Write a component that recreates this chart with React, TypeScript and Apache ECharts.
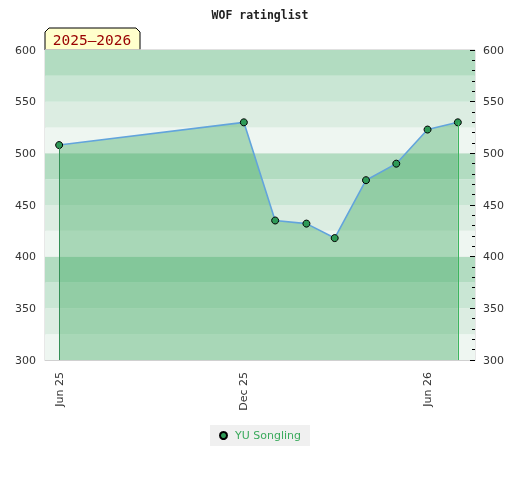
import React, { useEffect, useRef } from "react";
import * as echarts from "echarts";

const dates: string[] = [
  "2025-06-01", "2025-12-01", "2026-01-01", "2026-02-01", "2026-03-01",
  "2026-04-01", "2026-05-01", "2026-06-01", "2026-07-01",
];
const ratings: number[] = [508, 530, 435, 432, 418, 474, 490, 523, 530];
const xTickDates: string[] = ["2025-06-01", "2025-12-01", "2026-06-01"];
const monthNames: string[] = ["Jan", "Feb", "Mar", "Apr", "May", "Jun", "Jul", "Aug", "Sep", "Oct", "Nov", "Dec"];
const seriesName = "YU Songling";
const titleText = "WOF ratinglist";
const seasonText = "2025–2026";
const xMinDate = "2025-05-18";
const xMaxDate = "2026-07-18";
const yMin = 300;
const yMax = 600;

const ts = (s: string) => {
  const [y, m, d] = s.split("-").map(Number);
  return Date.UTC(y, m - 1, d);
};

export default function App() {
  const ref = useRef<HTMLDivElement>(null);
  useEffect(() => {
    if (!ref.current) return;
    const chart = echarts.init(ref.current, undefined, { renderer: "svg" });
    const points = dates.map((d, i) => [ts(d), ratings[i]]);
    const first = points[0];
    const last = points[points.length - 1];
    const font = "DejaVu Sans";
    chart.setOption({
      animation: false,
      title: {
        text: titleText,
        left: "center",
        top: 4,
        textStyle: { fontFamily: "DejaVu Sans Mono", fontWeight: "bold", fontSize: 11.5, color: "#222" },
      },
      grid: { left: 45, right: 45, top: 50, bottom: 120, show: true, borderColor: "#d0d0d0", borderWidth: 1, backgroundColor: "transparent" },
      legend: {
        data: [seriesName],
        left: "center",
        top: 425,
        icon: "circle",
        itemWidth: 7,
        itemHeight: 7,
        itemGap: 6,
        backgroundColor: "#f0f0f0",
        padding: [5, 9, 5, 9],
        textStyle: { color: "#3aaa5c", fontSize: 11, fontFamily: font, padding: [0, 0, 0, 3] },
      },
      xAxis: {
        type: "value",
        min: ts(xMinDate),
        max: ts(xMaxDate),
        axisLine: { show: true, lineStyle: { color: "#d0d0d0" } },
        axisTick: { show: false },
        splitLine: { show: false },
        axisLabel: {
          rotate: 90,
          margin: 12,
          customValues: xTickDates.map(ts),
          color: "#333",
          fontSize: 11,
          fontFamily: font,
          formatter: (v: number) => {
            const d = new Date(v);
            return `${monthNames[d.getUTCMonth()]} ${String(d.getUTCFullYear()).slice(2)}`;
          },
        },
      },
      yAxis: [
        {
          type: "value",
          position: "left",
          min: yMin,
          max: yMax,
          interval: 50,
          axisLine: { show: false },
          axisTick: { show: false },
          axisLabel: { color: "#333", fontSize: 11, fontFamily: font, margin: 9 },
          splitLine: { show: true, lineStyle: { color: ["#dedede", "rgba(0,0,0,0)"], width: 1.5 } },
        },
        {
          type: "value",
          position: "right",
          min: yMin,
          max: yMax,
          interval: 50,
          axisLine: { show: false },
          axisTick: { show: true, inside: true, length: 5, lineStyle: { color: "#000" } },
          minorTick: { show: true, splitNumber: 5, length: 3, lineStyle: { color: "#000" } },
          axisLabel: { color: "#333", fontSize: 11, fontFamily: font, margin: 8 },
          splitLine: { show: false },
        },
        {
          type: "value",
          position: "left",
          min: yMin,
          max: yMax,
          interval: 25,
          axisLine: { show: false },
          axisTick: { show: false },
          axisLabel: { show: false },
          splitLine: { show: false },
          splitArea: { show: true, areaStyle: { color: ["#eef6f1", "#dcede2", "#c9e6d4", "#b2dcc1"] } },
          z: 0,
        },
      ],
      series: [
        {
          name: seriesName,
          type: "line",
          yAxisIndex: 0,
          data: points,
          symbol: "circle",
          symbolSize: 7,
          itemStyle: { color: "#2e9a57", borderColor: "#000", borderWidth: 1 },
          lineStyle: { color: "#62a4dc", width: 1.6 },
          areaStyle: { color: "rgba(56,166,92,0.55)", origin: "start" },
          markLine: {
            silent: true,
            symbol: "none",
            label: { show: false },
            data: [
              [
                { coord: [first[0], first[1]], lineStyle: { color: "#358f57", width: 1, type: "solid" } },
                { coord: [first[0], yMin] },
              ],
              [
                { coord: [last[0], last[1]], lineStyle: { color: "#3db55e", width: 1, type: "solid" } },
                { coord: [last[0], yMin] },
              ],
            ],
          },
        },
      ],
      graphic: [
        {
          type: "group",
          z: 100,
          children: [
            {
              type: "polygon",
              shape: { points: [[45, 50], [45, 32], [49, 28], [136, 28], [140, 32], [140, 50]] },
              style: { fill: "#ffffcc", stroke: "#000", lineWidth: 1 },
            },
            {
              type: "text",
              x: 92,
              y: 40,
              style: {
                text: seasonText,
                fill: "#990000",
                font: "14.5px 'DejaVu Sans Mono'",
                align: "center",
                verticalAlign: "middle",
              },
            },
          ],
        },
      ],
    });
    return () => chart.dispose();
  }, []);
  return <div ref={ref} style={{ position: "fixed", left: 0, top: 0, width: 520, height: 480 }} />;
}
